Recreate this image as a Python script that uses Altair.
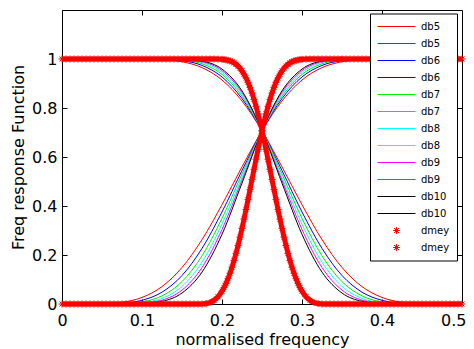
import altair as alt
import pandas as pd

# ---------------- data ----------------
freq = [0.0, 0.025, 0.05, 0.075, 0.1, 0.125, 0.15, 0.175, 0.2, 0.225, 0.25,
        0.275, 0.3, 0.325, 0.35, 0.375, 0.4, 0.425, 0.45, 0.475, 0.5]

db5_lo = [1, 1, 1, 1, 0.9996, 0.9975, 0.9888, 0.9648, 0.9142, 0.8286, 0.7071,
          0.5599, 0.4053, 0.2628, 0.1490, 0.0711, 0.0268, 0.0071, 0.0010, 0, 0]
db5_hi = [0, 0, 0.0010, 0.0071, 0.0268, 0.0711, 0.1490, 0.2628, 0.4053, 0.5599, 0.7071,
          0.8286, 0.9142, 0.9648, 0.9888, 0.9975, 0.9996, 1, 1, 1, 1]
db6_lo = [1, 1, 1, 1, 0.9999, 0.9988, 0.9932, 0.9739, 0.9267, 0.8386, 0.7071,
          0.5447, 0.3757, 0.2268, 0.1163, 0.0483, 0.0151, 0.0030, 0.0003, 0, 0]
db6_hi = [0, 0, 0.0003, 0.0030, 0.0151, 0.0483, 0.1163, 0.2268, 0.3757, 0.5447, 0.7071,
          0.8386, 0.9267, 0.9739, 0.9932, 0.9988, 0.9999, 1, 1, 1, 1]
db7_lo = [1, 1, 1, 1, 1, 0.9995, 0.9958, 0.9805, 0.9370, 0.8476, 0.7071,
          0.5306, 0.3494, 0.1966, 0.0912, 0.0331, 0.0086, 0.0013, 0.0001, 0, 0]
db7_hi = [0, 0, 0.0001, 0.0013, 0.0086, 0.0331, 0.0912, 0.1966, 0.3494, 0.5306, 0.7071,
          0.8476, 0.9370, 0.9805, 0.9958, 0.9995, 1, 1, 1, 1, 1]
db8_lo = [1, 1, 1, 1, 1, 0.9997, 0.9974, 0.9853, 0.9455, 0.8557, 0.7071,
          0.5174, 0.3257, 0.1709, 0.0718, 0.0227, 0.0049, 0.0006, 0, 0, 0]
db8_hi = [0, 0, 0, 0.0006, 0.0049, 0.0227, 0.0718, 0.1709, 0.3257, 0.5174, 0.7071,
          0.8557, 0.9455, 0.9853, 0.9974, 0.9997, 1, 1, 1, 1, 1]
db9_lo = [1, 1, 1, 1, 1, 0.9999, 0.9984, 0.9889, 0.9526, 0.8631, 0.7071,
          0.5051, 0.3041, 0.1489, 0.0567, 0.0156, 0.0028, 0.0003, 0, 0, 0]
db9_hi = [0, 0, 0, 0.0003, 0.0028, 0.0156, 0.0567, 0.1489, 0.3041, 0.5051, 0.7071,
          0.8631, 0.9526, 0.9889, 0.9984, 0.9999, 1, 1, 1, 1, 1]
db10_lo = [1, 1, 1, 1, 1, 1, 0.9990, 0.9915, 0.9587, 0.8698, 0.7071,
           0.4934, 0.2844, 0.1300, 0.0448, 0.0108, 0.0016, 0.0001, 0, 0, 0]
db10_hi = [0, 0, 0, 0.0001, 0.0016, 0.0108, 0.0448, 0.1300, 0.2844, 0.4934, 0.7071,
           0.8698, 0.9587, 0.9915, 0.9990, 1, 1, 1, 1, 1, 1]

dmey_freq = [0.000, 0.005, 0.010, 0.015, 0.020, 0.025, 0.030, 0.035, 0.040, 0.045,
             0.050, 0.055, 0.060, 0.065, 0.070, 0.075, 0.080, 0.085, 0.090, 0.095,
             0.100, 0.105, 0.110, 0.115, 0.120, 0.125, 0.130, 0.135, 0.140, 0.145,
             0.150, 0.155, 0.160, 0.165, 0.170, 0.175, 0.180, 0.185, 0.190, 0.195,
             0.200, 0.2025, 0.205, 0.2075, 0.210, 0.2125, 0.215, 0.2175, 0.220, 0.2225,
             0.225, 0.2275, 0.230, 0.2325, 0.235, 0.2375, 0.240, 0.2425, 0.245, 0.2475,
             0.250, 0.2525, 0.255, 0.2575, 0.260, 0.2625, 0.265, 0.2675, 0.270, 0.2725,
             0.275, 0.2775, 0.280, 0.2825, 0.285, 0.2875, 0.290, 0.2925, 0.295, 0.2975,
             0.300, 0.305, 0.310, 0.315, 0.320, 0.325, 0.330, 0.335, 0.340, 0.345,
             0.350, 0.355, 0.360, 0.365, 0.370, 0.375, 0.380, 0.385, 0.390, 0.395,
             0.400, 0.405, 0.410, 0.415, 0.420, 0.425, 0.430, 0.435, 0.440, 0.445,
             0.450, 0.455, 0.460, 0.465, 0.470, 0.475, 0.480, 0.485, 0.490, 0.495,
             0.500]
dmey_lo = [1, 1, 1, 1, 1, 1, 1, 1, 1, 1,
           1, 1, 1, 1, 1, 1, 1, 1, 1, 1,
           1, 1, 1, 1, 1, 1, 1, 1, 1, 1,
           1, 1, 1, 1, 1, 1, 1.0, 1.0, 0.9999, 0.9996,
           0.9986, 0.9978, 0.9965, 0.9946, 0.9921, 0.9887, 0.9842, 0.9784, 0.9711, 0.9621,
           0.9511, 0.9380, 0.9226, 0.9047, 0.8842, 0.8610, 0.8353, 0.8068, 0.7759, 0.7425,
           0.7071, 0.6698, 0.6309, 0.5909, 0.5498, 0.5085, 0.4670, 0.4261, 0.3857, 0.3466,
           0.3088, 0.2728, 0.2387, 0.2068, 0.1773, 0.1502, 0.1256, 0.1035, 0.0840, 0.0670,
           0.0524, 0.0297, 0.0148, 0.0061, 0.0018, 0, 0, 0, 0, 0,
           0, 0, 0, 0, 0, 0, 0, 0, 0, 0,
           0, 0, 0, 0, 0, 0, 0, 0, 0, 0,
           0, 0, 0, 0, 0, 0, 0, 0, 0, 0,
           0]
dmey_hi = [0, 0, 0, 0, 0, 0, 0, 0, 0, 0,
           0, 0, 0, 0, 0, 0, 0, 0, 0, 0,
           0, 0, 0, 0, 0, 0, 0, 0, 0, 0,
           0, 0, 0, 0, 0, 0, 0.0018, 0.0061, 0.0148, 0.0297,
           0.0524, 0.0670, 0.0840, 0.1035, 0.1256, 0.1502, 0.1773, 0.2068, 0.2387, 0.2728,
           0.3088, 0.3466, 0.3857, 0.4261, 0.4670, 0.5085, 0.5498, 0.5909, 0.6309, 0.6698,
           0.7071, 0.7425, 0.7759, 0.8068, 0.8353, 0.8610, 0.8842, 0.9047, 0.9226, 0.9380,
           0.9511, 0.9621, 0.9711, 0.9784, 0.9842, 0.9887, 0.9921, 0.9946, 0.9965, 0.9978,
           0.9986, 0.9996, 0.9999, 1.0, 1.0, 1, 1, 1, 1, 1,
           1, 1, 1, 1, 1, 1, 1, 1, 1, 1,
           1, 1, 1, 1, 1, 1, 1, 1, 1, 1,
           1, 1, 1, 1, 1, 1, 1, 1, 1, 1,
           1]

series_names = ["db5_lo", "db5_hi", "db6_lo", "db6_hi", "db7_lo", "db7_hi",
                "db8_lo", "db8_hi", "db9_lo", "db9_hi", "db10_lo", "db10_hi",
                "dmey_lo", "dmey_hi"]
series_colors = ["#ff0000", "#ff0000", "#0000ff", "#0000ff", "#00ee00", "#00ee00",
                 "#00ffff", "#00ffff", "#ff00ff", "#ff00ff", "#000000", "#000000",
                 "#ff0000", "#ff0000"]

x_ticks = [0, 0.1, 0.2, 0.3, 0.4, 0.5]
y_ticks = [0, 0.2, 0.4, 0.6, 0.8, 1.0]

# ---------------- tables ----------------
db_series = [db5_lo, db5_hi, db6_lo, db6_hi, db7_lo, db7_hi,
             db8_lo, db8_hi, db9_lo, db9_hi, db10_lo, db10_hi]
rows = []
for name, vals in zip(series_names[:12], db_series):
    for f, v in zip(freq, vals):
        rows.append({"f": f, "v": v, "series": name})
df_db = pd.DataFrame(rows)

dm_rows = []
for name, vals in [("dmey_lo", dmey_lo), ("dmey_hi", dmey_hi)]:
    for f, v in zip(dmey_freq, vals):
        dm_rows.append({"f": f, "v": v, "series": name})
df_dm = pd.DataFrame(dm_rows)

# ---------------- chart ----------------
star = "M-1,0L1,0M0,-1L0,1M-0.7,-0.7L0.7,0.7M-0.7,0.7L0.7,-0.7"
legend_star = "M-0.18,0L0.18,0M0,-0.18L0,0.18M-0.13,-0.13L0.13,0.13M-0.13,0.13L0.13,-0.13"

xs = alt.Scale(domain=[0, 0.5], nice=False, zero=False)
ys = alt.Scale(domain=[0, 1.2], nice=False, zero=False)
inward = alt.ExprRef(expr="-5")

lines = alt.Chart(df_db).mark_line(strokeWidth=1, interpolate="monotone").encode(
    x=alt.X("f:Q", scale=xs, axis=alt.Axis(
        values=x_ticks, format=".1~f", title="normalised frequency",
        tickSize=inward, labelPadding=13, titlePadding=3, labelFlush=False,
        labelAlign={"condition": {"test": "datum.value >= 0.5", "value": "right"}, "value": "center"},
        labelOffset={"condition": {"test": "datum.value >= 0.5", "value": 4}, "value": 0})),
    y=alt.Y("v:Q", scale=ys, axis=alt.Axis(
        values=y_ticks, format=".1~f", title="Freq response Function",
        tickSize=inward, labelPadding=10, titlePadding=5, labelFlush=False)),
    color=alt.Color("series:N", scale=alt.Scale(domain=series_names, range=series_colors),
                    legend=alt.Legend(
                        title=None, orient="none", legendX=308, legendY=3.5,
                        labelExpr="split(datum.label, '_')[0]",
                        symbolType=alt.ExprRef(
                            expr="indexof(datum.value, 'dmey') == 0 ? '" + legend_star + "' : 'stroke'"),
                        symbolSize=1444, symbolStrokeWidth=1,
                        clipHeight=12, rowPadding=5, padding=7, labelOffset=5,
                        strokeColor="black", fillColor="white",
                        labelFont="DejaVu Sans", labelFontSize=10, labelColor="black")),
)

dmey_band = alt.Chart(df_dm).mark_line(strokeWidth=5, color="#ff0000", interpolate="monotone").encode(
    x=alt.X("f:Q", scale=xs, axis=alt.Axis(
        orient="top", values=x_ticks[1:-1], labels=False, title=None, domain=False,
        tickSize=inward)),
    y=alt.Y("v:Q", scale=ys, axis=alt.Axis(
        orient="right", values=y_ticks[1:], labels=False, title=None, domain=False,
        tickSize=inward)),
    detail="series:N",
)

dmey_pts = alt.Chart(df_dm).mark_point(shape=star, size=49, filled=False, strokeWidth=1,
                                       color="#ff0000", opacity=1).encode(
    x=alt.X("f:Q", scale=xs, axis=None),
    y=alt.Y("v:Q", scale=ys, axis=None),
    detail="series:N",
)

chart = alt.layer(lines, dmey_band, dmey_pts).resolve_axis(
    x="independent", y="independent"
).properties(
    width=400, height=294,
    autosize=alt.AutoSizeParams(type="none"),
    padding={"left": 54, "top": 2, "right": 4, "bottom": 45},
    background="white",
).configure_view(
    stroke="black", strokeWidth=1
).configure_axis(
    labelFont="DejaVu Sans", labelFontSize=16, labelColor="black",
    titleFont="DejaVu Sans", titleFontSize=16, titleFontWeight="normal", titleColor="black",
    domainColor="black", tickColor="black", grid=False,
)

chart.save("out.html", embed_options={"renderer": "svg", "actions": False})
